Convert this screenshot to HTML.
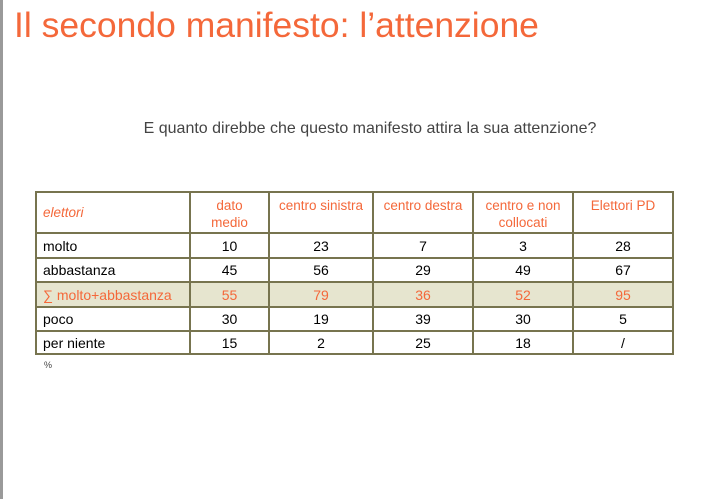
<!DOCTYPE html>
<html><head><meta charset="utf-8"><style>
body{margin:0;width:719px;height:499px;background:#fff;position:relative;overflow:hidden;font-family:"Liberation Sans",sans-serif}
#lb{position:absolute;left:0;top:0;width:3px;height:499px;background:#9a9a9a}
#title{position:absolute;left:14px;top:5px;font-size:35.5px;color:#f4683a;white-space:nowrap}
#sub{position:absolute;left:0;width:740px;top:120px;text-align:center;font-size:16px;color:#444}
table{position:absolute;left:35px;top:191px;border-collapse:collapse;font-size:14px}
td{border:2px solid #77744f;padding:0;text-align:center;color:#000}
td:first-child{text-align:left;padding-left:6px}
tr.h td{color:#f4683a;font-size:13.5px;vertical-align:top;padding-top:4px;line-height:17px}
tr.h td:first-child{vertical-align:middle;font-style:italic;padding-top:0}
tr.s td{background:#e6e5cf;color:#f4683a}
#pct{position:absolute;left:44px;top:360px;font-size:9px;color:#444}
</style></head><body>
<div id="lb"></div>
<div id="title">Il secondo manifesto: l’attenzione</div>
<div id="sub">E quanto direbbe che questo manifesto attira la sua attenzione?</div>
<table>
<colgroup><col style="width:154px"><col style="width:79px"><col style="width:104px"><col style="width:100px"><col style="width:100px"><col style="width:100px"></colgroup>
<tr class="h" style="height:41px"><td>elettori</td><td>dato<br>medio</td><td>centro sinistra</td><td>centro destra</td><td>centro e non<br>collocati</td><td>Elettori PD</td></tr>
<tr style="height:25px"><td>molto</td><td>10</td><td>23</td><td>7</td><td>3</td><td>28</td></tr>
<tr style="height:24px"><td>abbastanza</td><td>45</td><td>56</td><td>29</td><td>49</td><td>67</td></tr>
<tr class="s" style="height:25px"><td>∑ molto+abbastanza</td><td>55</td><td>79</td><td>36</td><td>52</td><td>95</td></tr>
<tr style="height:24px"><td>poco</td><td>30</td><td>19</td><td>39</td><td>30</td><td>5</td></tr>
<tr style="height:23px"><td>per niente</td><td>15</td><td>2</td><td>25</td><td>18</td><td>/</td></tr>
</table>
<div id="pct">%</div>
</body></html>
